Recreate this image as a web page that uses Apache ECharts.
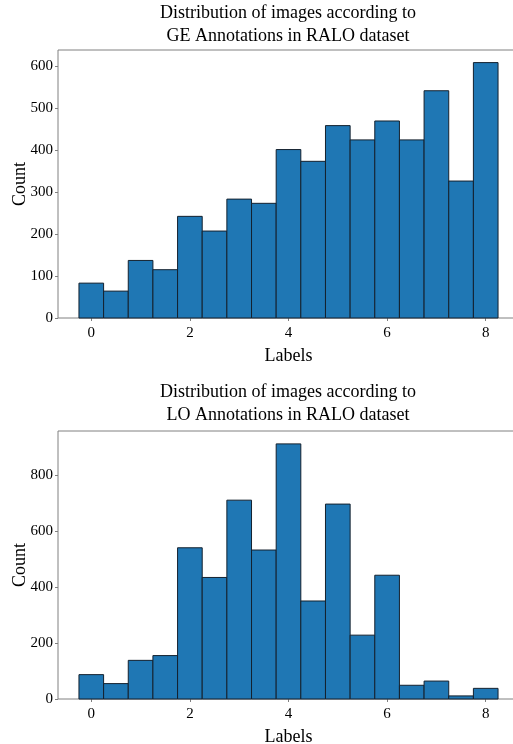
<!DOCTYPE html>
<html lang="en">
<head>
<meta charset="UTF-8">
<title>RALO histograms</title>
<script src="https://cdn.jsdelivr.net/npm/echarts@6/dist/echarts.min.js"></script>
</head>
<body style="margin:0">
<div id="container" style="width:513px;height:744px"></div>
<script>
// bin centres (bin width 0.5)
var binCenters = [0, 0.5, 1, 1.5, 2, 2.5, 3, 3.5, 4, 4.5, 5, 5.5, 6, 6.5, 7, 7.5, 8];
var binWidth = 0.5;
// counts
var geCounts = [83, 64, 137, 115, 242, 207, 283, 273, 401, 373, 458, 424, 469, 424, 541, 326, 608];
var loCounts = [87, 55, 138, 155, 540, 434, 710, 532, 911, 350, 696, 228, 442, 49, 64, 11, 38];
var xTicks = [0, 2, 4, 6, 8];
var geYTicks = [0, 100, 200, 300, 400, 500, 600];
var loYTicks = [0, 200, 400, 600, 800];
var titles = [
    'Distribution of images according to\nGE Annotations in RALO dataset',
    'Distribution of images according to\nLO Annotations in RALO dataset'
];

var font = '"Liberation Serif", "DejaVu Serif", serif';
var spine = '#808080';

function histData(counts) {
    return binCenters.map(function (c, i) {
        return [c - binWidth / 2, c + binWidth / 2, counts[i]];
    });
}

function renderItem(params, api) {
    var p0 = api.coord([api.value(0), api.value(2)]);
    var p1 = api.coord([api.value(1), 0]);
    return {
        type: 'rect',
        shape: { x: p0[0], y: p0[1], width: p1[0] - p0[0], height: p1[1] - p0[1] },
        style: { fill: '#1f77b4', stroke: '#14212e', lineWidth: 1 }
    };
}

function xAxisOpt(gi) {
    return {
        type: 'value', gridIndex: gi, min: -0.675, max: 8.675,
        name: 'Labels', nameLocation: 'middle', nameGap: 29, nameMoveOverlap: false,
        nameTextStyle: { fontFamily: font, fontSize: 18, color: '#000' },
        splitLine: { show: false },
        axisLine: { show: false, onZero: false },
        axisTick: { show: true, length: 3, lineStyle: { color: spine }, customValues: xTicks },
        axisLabel: { fontFamily: font, fontSize: 15, color: '#000', margin: 8, customValues: xTicks }
    };
}

function yAxisOpt(gi, max, ticks) {
    return {
        type: 'value', gridIndex: gi, min: 0, max: max,
        name: 'Count', nameLocation: 'middle', nameGap: 29, nameMoveOverlap: false,
        nameTextStyle: { fontFamily: font, fontSize: 18, color: '#000' },
        splitLine: { show: false },
        axisLine: { show: false, onZero: false },
        axisTick: { show: true, length: 3, lineStyle: { color: spine }, customValues: ticks },
        axisLabel: { fontFamily: font, fontSize: 15, color: '#000', margin: 5, customValues: ticks }
    };
}

var chart = echarts.init(document.getElementById('container'));
var option = {
    animation: false,
    backgroundColor: '#fff',
    graphic: [
        { type: 'text', x: 288, y: 2, style: { text: titles[0], font: '18px ' + font, textAlign: 'center', lineHeight: 23, fill: '#000' } },
        { type: 'text', x: 288, y: 381, style: { text: titles[1], font: '18px ' + font, textAlign: 'center', lineHeight: 23, fill: '#000' } }
    ],
    grid: [
        { left: 58, right: -6, top: 50, bottom: 426, outerBoundsMode: 'none', show: true, borderColor: spine, borderWidth: 1 },
        { left: 58, right: -6, top: 431, bottom: 45, outerBoundsMode: 'none', show: true, borderColor: spine, borderWidth: 1 }
    ],
    xAxis: [xAxisOpt(0), xAxisOpt(1)],
    yAxis: [yAxisOpt(0, 638, geYTicks), yAxisOpt(1, 957, loYTicks)],
    series: [
        { type: 'custom', xAxisIndex: 0, yAxisIndex: 0, renderItem: renderItem, encode: { x: [0, 1], y: 2 }, data: histData(geCounts) },
        { type: 'custom', xAxisIndex: 1, yAxisIndex: 1, renderItem: renderItem, encode: { x: [0, 1], y: 2 }, data: histData(loCounts) }
    ]
};
chart.setOption(option);
</script>
</body>
</html>
